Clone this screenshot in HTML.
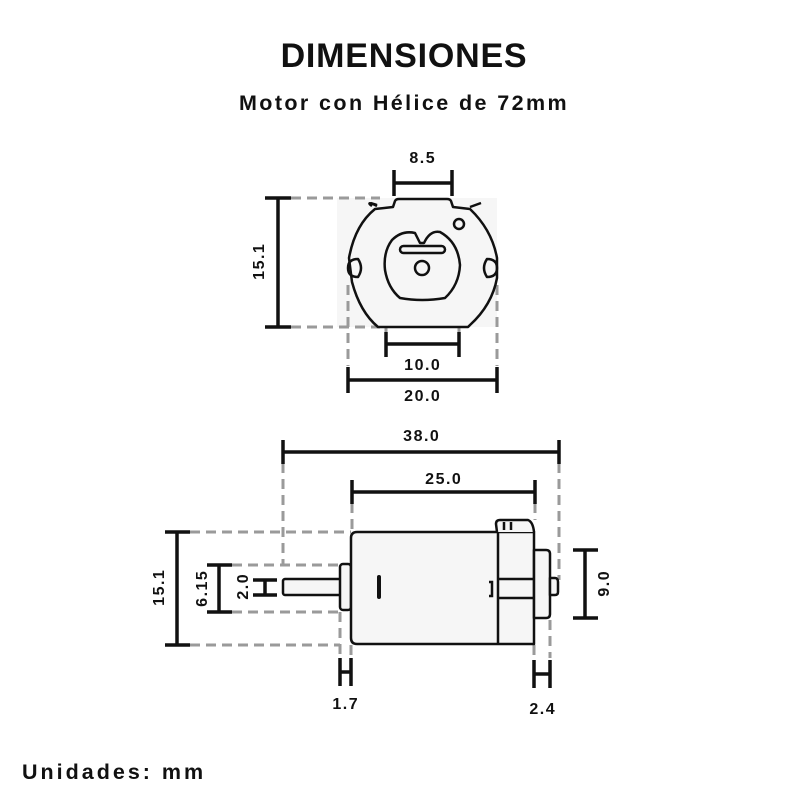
<!DOCTYPE html>
<html><head><meta charset="utf-8"><style>
html,body{margin:0;padding:0;background:#fff;}
svg{display:block;}
text{font-family:"Liberation Sans",sans-serif;font-weight:bold;fill:#111;}
.l{font-size:16px;letter-spacing:1.5px;}
</style></head><body>
<svg width="800" height="800" viewBox="0 0 800 800">
<text x="404" y="67" font-size="34" letter-spacing="0.8" text-anchor="middle">DIMENSIONES</text>
<text x="404" y="110" font-size="21.5" letter-spacing="2.4" text-anchor="middle">Motor con Hélice de 72mm</text>
<text x="22" y="779" font-size="21.5" letter-spacing="3">Unidades: mm</text>

<!-- TOP VIEW -->
<rect x="337" y="198" width="160" height="129" fill="#f6f6f6"/>
<g stroke="#9a9a9a" stroke-width="3" stroke-dasharray="10,6" fill="none">
<line x1="291" y1="198" x2="380" y2="198"/>
<line x1="291" y1="327" x2="380" y2="327"/>
<line x1="348" y1="285" x2="348" y2="366"/>
<line x1="497" y1="285" x2="497" y2="366"/>
<line x1="386" y1="295" x2="386" y2="332"/>
<line x1="459" y1="295" x2="459" y2="332"/>
</g>
<g stroke="#111" stroke-width="2.5" fill="none" stroke-linejoin="round">
<path d="M393,207 L395,201 Q396,199 399,199 L447,199 Q450,199 451,201 L453,207 L470,209 Q492,230 497,258 L497,278 Q492,305 470,325 L468,327 L378,327 Q360,312 352,282 L349,258 Q355,225 375,209 Z" fill="#f6f6f6"/>
<path d="M372,206 Q365,201 377,205"/>
<path d="M377,206 L371,203"/>
<path d="M470,207 L481,203"/>
<path d="M358,259 Q348,259 348,268 Q348,277 358,277 Q364,268 358,259 Z"/>
<path d="M487,259 Q497,259 497,268 Q497,277 487,277 Q481,268 487,259 Z"/>
<path d="M420,243 L415,233 Q402,230 392,240 Q383,252 385,270 Q388,288 400,298 Q422,302 445,298 Q459,285 460,265 Q458,242 440,232 Q430,230 424,243 Z"/>
<rect x="400" y="246" width="45" height="7" rx="3.5"/>
<circle cx="422" cy="268" r="7"/>
<circle cx="459" cy="224" r="5"/>
</g>
<g stroke="#111" stroke-width="3.5" fill="none">
<line x1="394" y1="183" x2="452" y2="183"/>
<line x1="394" y1="170" x2="394" y2="196"/>
<line x1="452" y1="170" x2="452" y2="196"/>
<line x1="278" y1="198" x2="278" y2="327"/>
<line x1="265" y1="198" x2="291" y2="198"/>
<line x1="265" y1="327" x2="291" y2="327"/>
<line x1="386" y1="344" x2="459" y2="344"/>
<line x1="386" y1="332" x2="386" y2="357"/>
<line x1="459" y1="332" x2="459" y2="357"/>
<line x1="348" y1="380" x2="497" y2="380"/>
<line x1="348" y1="367" x2="348" y2="393"/>
<line x1="497" y1="367" x2="497" y2="393"/>
</g>
<text class="l" x="422" y="163" dx="0.75" text-anchor="middle">8.5</text>
<text class="l" x="422" y="370" dx="0.75" text-anchor="middle">10.0</text>
<text class="l" x="422" y="401" dx="0.75" text-anchor="middle">20.0</text>
<text class="l" transform="translate(264,262) rotate(-90)" dx="0.75" text-anchor="middle">15.1</text>

<!-- SIDE VIEW -->
<g stroke="#9a9a9a" stroke-width="3" stroke-dasharray="10,6" fill="none">
<line x1="283" y1="463" x2="283" y2="565"/>
<line x1="559" y1="463" x2="559" y2="580"/>
<line x1="352" y1="503" x2="352" y2="532"/>
<line x1="535" y1="503" x2="535" y2="520"/>
<line x1="190" y1="532" x2="351" y2="532"/>
<line x1="190" y1="645" x2="340" y2="645"/>
<line x1="232" y1="565" x2="340" y2="565"/>
<line x1="232" y1="612" x2="340" y2="612"/>
<line x1="340" y1="612" x2="340" y2="656"/>
<line x1="351" y1="645" x2="351" y2="656"/>
<line x1="534" y1="645" x2="534" y2="658"/>
<line x1="550" y1="620" x2="550" y2="658"/>
</g>
<g stroke="#111" stroke-width="2.5" fill="#f6f6f6" stroke-linejoin="round">
<rect x="283" y="579" width="58" height="16" rx="2"/>
<rect x="340" y="564" width="11" height="46" rx="3"/>
<path d="M351,538 Q351,532 357,532 L534,532 L534,644 L357,644 Q351,644 351,638 Z"/>
<path d="M534,550 L546,550 Q550,550 550,554 L550,614 Q550,618 546,618 L534,618 Z"/>
<path d="M550,578 L555,578 Q558,578 558,582 L558,592 Q558,595 555,595 L550,595 Z"/>
<path d="M497,532 L496,524 Q496,520 500,520 L528,520 Q533,522 534,532"/>
</g>
<g stroke="#111" stroke-width="2.5" fill="none">
<line x1="498" y1="532" x2="498" y2="644"/>
<line x1="498" y1="579" x2="534" y2="579"/>
<line x1="498" y1="598" x2="534" y2="598"/>
<path d="M489,582 L492,582 L492,596 L489,596"/>
<line x1="504" y1="522" x2="504" y2="530"/>
<line x1="511" y1="522" x2="511" y2="530"/>
<line x1="379" y1="577" x2="379" y2="597" stroke-width="4" stroke-linecap="round"/>
</g>
<g stroke="#111" stroke-width="3.5" fill="none">
<line x1="283" y1="452" x2="559" y2="452"/>
<line x1="283" y1="440" x2="283" y2="464"/>
<line x1="559" y1="440" x2="559" y2="464"/>
<line x1="352" y1="492" x2="535" y2="492"/>
<line x1="352" y1="480" x2="352" y2="504"/>
<line x1="535" y1="480" x2="535" y2="504"/>
<line x1="177" y1="532" x2="177" y2="645"/>
<line x1="165" y1="532" x2="190" y2="532"/>
<line x1="165" y1="645" x2="190" y2="645"/>
<line x1="219" y1="565" x2="219" y2="612"/>
<line x1="207" y1="565" x2="232" y2="565"/>
<line x1="207" y1="612" x2="232" y2="612"/>
<line x1="253" y1="580" x2="277" y2="580"/>
<line x1="253" y1="595" x2="277" y2="595"/>
<line x1="265" y1="580" x2="265" y2="595"/>
<line x1="585" y1="550" x2="585" y2="618"/>
<line x1="573" y1="550" x2="598" y2="550"/>
<line x1="573" y1="618" x2="598" y2="618"/>
<line x1="340" y1="658" x2="340" y2="686"/>
<line x1="351" y1="658" x2="351" y2="686"/>
<line x1="340" y1="672" x2="351" y2="672"/>
<line x1="534" y1="660" x2="534" y2="688"/>
<line x1="550" y1="660" x2="550" y2="688"/>
<line x1="534" y1="674" x2="550" y2="674"/>
</g>
<text class="l" x="421" y="441" dx="0.75" text-anchor="middle">38.0</text>
<text class="l" x="443" y="484" dx="0.75" text-anchor="middle">25.0</text>
<text class="l" x="345" y="709" dx="0.75" text-anchor="middle">1.7</text>
<text class="l" x="542" y="714" dx="0.75" text-anchor="middle">2.4</text>
<text class="l" transform="translate(164,588) rotate(-90)" dx="0.75" text-anchor="middle">15.1</text>
<text class="l" transform="translate(207,589) rotate(-90)" dx="0.75" text-anchor="middle">6.15</text>
<text class="l" transform="translate(248,587) rotate(-90)" dx="0.75" text-anchor="middle">2.0</text>
<text class="l" transform="translate(609,584) rotate(-90)" dx="0.75" text-anchor="middle">9.0</text>
</svg>
</body></html>
